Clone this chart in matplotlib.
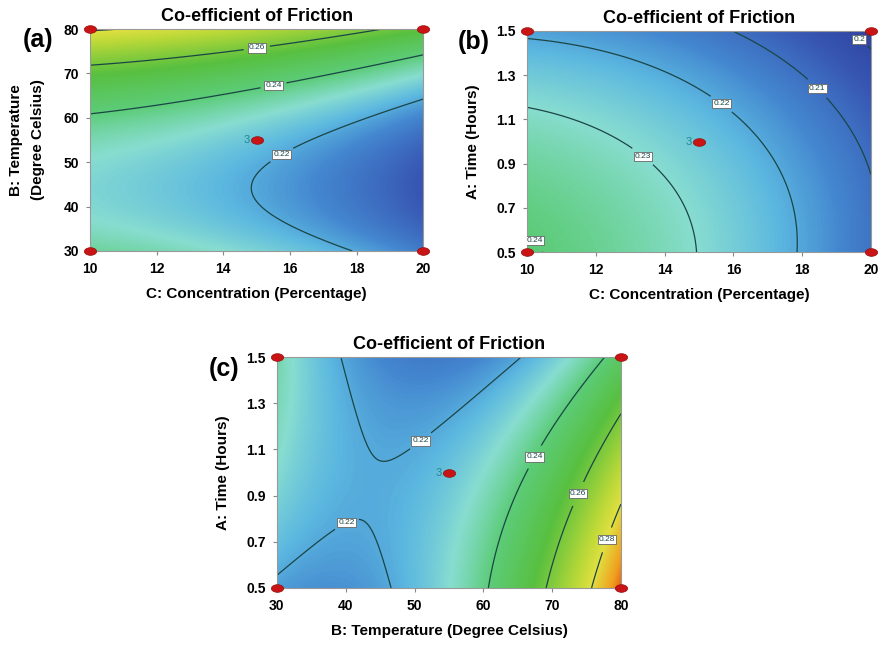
import numpy as np
import matplotlib.pyplot as plt
from matplotlib.colors import LinearSegmentedColormap
from matplotlib.path import Path

plt.rcParams['font.family'] = ['Liberation Sans', 'DejaVu Sans']

# factor ranges (actual units)
conc_range = [10, 20]      # C: Concentration (%)
temp_range = [30, 80]      # B: Temperature (deg C)
time_range = [0.5, 1.5]    # A: Time (h)

# quadratic response-surface coefficients in coded units (-1..1)
# order: intercept, x, y, x^2, y^2, x*y
coef_a = [0.22435, -0.01231, 0.02193, -0.00337, 0.02539, -0.00061]   # x=C, y=B
coef_b = [0.22511, -0.01270, -0.00879, -0.00402, -0.00411, 0.00218]  # x=C, y=A
coef_c = [0.22470, 0.02192, -0.00845, 0.02686, -0.00333, -0.01632]   # x=B, y=A

levels_a = [0.22, 0.24, 0.26, 0.28]
levels_b = [0.20, 0.21, 0.22, 0.23, 0.24]
levels_c = [0.22, 0.24, 0.26, 0.28]

conc_ticks = [10, 12, 14, 16, 18, 20]
temp_ticks = [30, 40, 50, 60, 70, 80]
time_ticks = [0.5, 0.7, 0.9, 1.1, 1.3, 1.5]

center_runs = 3


def coded(v, r):
    return (np.asarray(v, float) - (r[0] + r[1]) / 2) / ((r[1] - r[0]) / 2)


def model(b, x, y):
    return b[0] + b[1] * x + b[2] * y + b[3] * x * x + b[4] * y * y + b[5] * x * y


vmin, vmax = 0.195, 0.30
stops = [(0.195, '#2b3a9c'), (0.205, '#3858b4'), (0.215, '#4488d0'), (0.222, '#5cb8e0'),
         (0.23, '#88ddd0'), (0.24, '#5ccc78'), (0.255, '#58c040'), (0.272, '#b8d838'),
         (0.28, '#e0e040'), (0.29, '#f0a020'), (0.30, '#e03010')]
cmap = LinearSegmentedColormap.from_list('de', [((v - vmin) / (vmax - vmin), c) for v, c in stops])

panels = [
    dict(rect=[0.102, 0.611, 0.378, 0.344], coef=coef_a, xr=conc_range, yr=temp_range,
         levels=levels_a, xticks=conc_ticks, yticks=temp_ticks, letter='(a)', ypad=13,
         xlabel='C: Concentration (Percentage)', ylabel='B: Temperature\n(Degree Celsius)',
         lab=[(15.0, 76.0), (15.5, 67.5), (15.8, 51.0)]),
    dict(rect=[0.5975, 0.609, 0.390, 0.343], coef=coef_b, xr=conc_range, yr=time_range,
         levels=levels_b, xticks=conc_ticks, yticks=time_ticks, letter='(b)', ypad=12,
         xlabel='C: Concentration (Percentage)', ylabel='A: Time (Hours)',
         lab=[(19.7, 1.47), (18.5, 1.25), (15.7, 1.18), (13.4, 0.94), (10.3, 0.56)]),
    dict(rect=[0.314, 0.0884, 0.390, 0.358], coef=coef_c, xr=temp_range, yr=time_range,
         levels=levels_c, xticks=temp_ticks, yticks=time_ticks, letter='(c)', ypad=12,
         xlabel='B: Temperature (Degree Celsius)', ylabel='A: Time (Hours)',
         lab=[(50.3, 1.16), (40.3, 0.77), (67.3, 1.07), (73.6, 0.91), (77.8, 0.71)]),
]

# flattened ellipse marker for the design points
ell = Path.unit_circle()
dot = Path(ell.vertices * [1, 0.62], ell.codes)

fig = plt.figure(figsize=(8.82, 6.45), dpi=100)
for p in panels:
    ax = fig.add_axes(p['rect'])
    xr, yr = p['xr'], p['yr']
    X, Y = np.meshgrid(np.linspace(xr[0], xr[1], 300), np.linspace(yr[0], yr[1], 300))
    Z = model(p['coef'], coded(X, xr), coded(Y, yr))
    ax.imshow(Z, origin='lower', extent=[xr[0], xr[1], yr[0], yr[1]], aspect='auto',
              cmap=cmap, vmin=vmin, vmax=vmax, interpolation='bilinear')
    cs = ax.contour(X, Y, Z, levels=p['levels'], colors='#1b4646', linewidths=0.9)
    texts = ax.clabel(cs, manual=p['lab'], inline=True, fmt=lambda v: f'{v:g}', fontsize=6)
    for t in texts:
        t.set_rotation(0)
        t.set_bbox(dict(facecolor='white', edgecolor='#666666', pad=0.8, linewidth=0.6))

    # factorial corners and the centre point
    ax.plot([xr[0], xr[1], xr[0], xr[1]], [yr[0], yr[0], yr[1], yr[1]], linestyle='none',
            marker=dot, ms=9, color='#c81414', mec='#8a0a0a', mew=0.4, clip_on=False, zorder=6)
    cx, cy = sum(xr) / 2, sum(yr) / 2
    ax.plot([cx], [cy], linestyle='none', marker=dot, ms=9, color='#c81414', mec='#8a0a0a',
            mew=0.4, zorder=6)
    ax.annotate(str(center_runs), (cx, cy), xytext=(-5, 0), textcoords='offset points',
                ha='right', va='center', fontsize=8, color='#1f8a8a')

    ax.set_xlim(xr)
    ax.set_ylim(yr)
    ax.set_xticks(p['xticks'])
    ax.set_yticks(p['yticks'])
    ax.set_xticklabels([f'{v:g}' for v in p['xticks']])
    ax.set_yticklabels([f'{v:g}' for v in p['yticks']])
    ax.tick_params(direction='out', length=3, width=0.8, color='#888888', labelsize=10, pad=5)
    for t in ax.get_xticklabels() + ax.get_yticklabels():
        t.set_fontweight('bold')
    for s in ax.spines.values():
        s.set_color('#999999')
        s.set_linewidth(0.8)
    ax.set_xlabel(p['xlabel'], fontsize=11, fontweight='bold', labelpad=8)
    ax.set_ylabel(p['ylabel'], fontsize=11, fontweight='bold', labelpad=p['ypad'], linespacing=1.75)
    ax.set_title('Co-efficient of Friction', fontsize=13, fontweight='bold', pad=6)
    ax.text(-0.155, 0.95, p['letter'], transform=ax.transAxes, fontsize=18, fontweight='bold',
            ha='center', va='center')

fig.savefig('out.png', dpi=100)
